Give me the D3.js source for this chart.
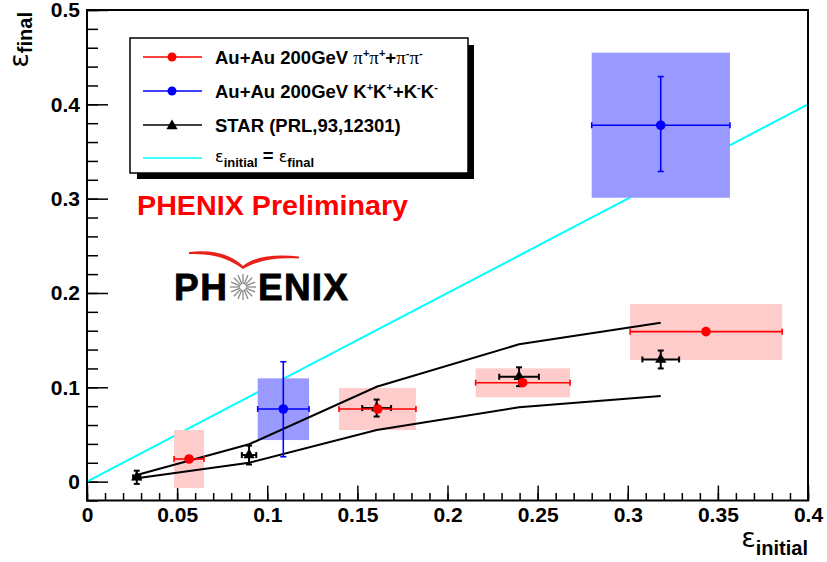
<!DOCTYPE html>
<html>
<head>
<meta charset="utf-8">
<script src="https://cdn.jsdelivr.net/npm/d3@7"></script>
<style>
body { margin: 0; background: #fff; }
text { font-family: "Liberation Sans", Arial, sans-serif; }
</style>
</head>
<body>
<svg id="chart" width="827" height="562"></svg>
<script>
// PHENIX pions (points, x error range = syst box width, syst box in y)
var pionX     = [0.0566, 0.1613, 0.2417, 0.3434];
var pionY     = [0.0240, 0.0770, 0.1049, 0.1590];
var pionXLo   = [0.0483, 0.1398, 0.2156, 0.3013];
var pionXHi   = [0.0649, 0.1825, 0.2680, 0.3857];
var pionSysLo = [-0.0068, 0.0547, 0.0894, 0.1289];
var pionSysHi = [0.0547, 0.0992, 0.1201, 0.1883];

// PHENIX kaons
var kaonX     = [0.1089, 0.3183];
var kaonY     = [0.0770, 0.3778];
var kaonXLo   = [0.0947, 0.2800];
var kaonXHi   = [0.1232, 0.3567];
var kaonYLo   = [0.0264, 0.3288];
var kaonYHi   = [0.1271, 0.4294];
var kaonSysLo = [0.0441, 0.3010];
var kaonSysHi = [0.1095, 0.4548];

// STAR points and the two model curves
var starX    = [0.0276, 0.0899, 0.1607, 0.2397, 0.3183];
var starY    = [0.0046, 0.0282, 0.0780, 0.1112, 0.1295];
var starXErr = [0.0020, 0.0040, 0.0080, 0.0110, 0.0102];
var starYErr = [0.0070, 0.0100, 0.0090, 0.0100, 0.0095];
var curveUp  = [0.0070, 0.0396, 0.1006, 0.1456, 0.1685];
var curveLow = [0.0035, 0.0200, 0.0547, 0.0788, 0.0908];

// axes
var xMajor  = [0, 0.05, 0.1, 0.15, 0.2, 0.25, 0.3, 0.35, 0.4];
var xLabels = ["0", "0.05", "0.1", "0.15", "0.2", "0.25", "0.3", "0.35", "0.4"];
var yMajor  = [0, 0.1, 0.2, 0.3, 0.4, 0.5];
var yLabels = ["0", "0.1", "0.2", "0.3", "0.4", "0.5"];
var xMinor  = d3.range(0, 41).map(function(i){ return i / 100; });
var yMinor  = d3.range(-1, 26).map(function(i){ return i * 0.02; });
var diag    = [0, 0.4];

var svg = d3.select("#chart");
var x = d3.scaleLinear().domain([0, 0.4]).range([87, 808]);
var y = d3.scaleLinear().domain([-0.02, 0.5]).range([500.5, 10]);

// ticks (pointing inside, like ROOT)
svg.append("g").attr("transform", "translate(0," + y(-0.02) + ")")
	.call(d3.axisBottom(x).tickValues(xMinor).tickSize(-7.5).tickSizeOuter(0).tickFormat(""))
	.call(function(g){ g.select(".domain").remove(); g.selectAll("line").attr("stroke-width", 1.5); });
svg.append("g").attr("transform", "translate(0," + y(-0.02) + ")")
	.call(d3.axisBottom(x).tickValues(xMajor).tickSize(-15).tickSizeOuter(0).tickPadding(7)
		.tickFormat(function(d, i){ return xLabels[i]; }))
	.call(function(g){
		g.select(".domain").remove();
		g.selectAll("line").attr("stroke-width", 1.5);
		g.selectAll("text").attr("font-size", 21).attr("font-weight", "bold").attr("fill", "#000")
			.attr("font-family", "Liberation Sans, Arial, sans-serif");
	});
svg.append("g").attr("transform", "translate(" + x(0) + ",0)")
	.call(d3.axisLeft(y).tickValues(yMinor).tickSize(-11).tickSizeOuter(0).tickFormat(""))
	.call(function(g){ g.select(".domain").remove(); g.selectAll("line").attr("stroke-width", 1.5); });
svg.append("g").attr("transform", "translate(" + x(0) + ",0)")
	.call(d3.axisLeft(y).tickValues(yMajor).tickSize(-21).tickSizeOuter(0).tickPadding(7)
		.tickFormat(function(d, i){ return yLabels[i]; }))
	.call(function(g){
		g.select(".domain").remove();
		g.selectAll("line").attr("stroke-width", 1.5);
		g.selectAll("text").attr("font-size", 21).attr("font-weight", "bold").attr("fill", "#000")
			.attr("font-family", "Liberation Sans, Arial, sans-serif");
	});

// y = x reference line
svg.append("line")
	.attr("x1", x(diag[0])).attr("y1", y(diag[0]))
	.attr("x2", x(diag[1])).attr("y2", y(diag[1]))
	.attr("stroke", "#00ffff").attr("stroke-width", 2);

// systematic boxes
svg.selectAll(".pbox").data(pionX).enter().append("rect")
	.attr("x", function(d, i){ return x(pionXLo[i]); })
	.attr("y", function(d, i){ return y(pionSysHi[i]); })
	.attr("width", function(d, i){ return x(pionXHi[i]) - x(pionXLo[i]); })
	.attr("height", function(d, i){ return y(pionSysLo[i]) - y(pionSysHi[i]); })
	.attr("fill", "#ffcccc");
svg.selectAll(".kbox").data(kaonX).enter().append("rect")
	.attr("x", function(d, i){ return x(kaonXLo[i]); })
	.attr("y", function(d, i){ return y(kaonSysHi[i]); })
	.attr("width", function(d, i){ return x(kaonXHi[i]) - x(kaonXLo[i]); })
	.attr("height", function(d, i){ return y(kaonSysLo[i]) - y(kaonSysHi[i]); })
	.attr("fill", "#9999ff");

// STAR model curves
var line = d3.line().x(function(d, i){ return x(starX[i]); }).y(function(d){ return y(d); });
[curveUp, curveLow].forEach(function(c){
	svg.append("path").datum(c).attr("d", line)
		.attr("fill", "none").attr("stroke", "#000").attr("stroke-width", 2);
});

// error bars with little caps
function barH(cx0, cx1, cy, cor, cap, w){
	svg.append("line").attr("x1", cx0).attr("y1", cy).attr("x2", cx1).attr("y2", cy)
		.attr("stroke", cor).attr("stroke-width", w);
	[cx0, cx1].forEach(function(cx){
		svg.append("line").attr("x1", cx).attr("y1", cy - cap).attr("x2", cx).attr("y2", cy + cap)
			.attr("stroke", cor).attr("stroke-width", w);
	});
}
function barV(cx, cy0, cy1, cor, cap, w){
	svg.append("line").attr("x1", cx).attr("y1", cy0).attr("x2", cx).attr("y2", cy1)
		.attr("stroke", cor).attr("stroke-width", w);
	[cy0, cy1].forEach(function(cy){
		svg.append("line").attr("x1", cx - cap).attr("y1", cy).attr("x2", cx + cap).attr("y2", cy)
			.attr("stroke", cor).attr("stroke-width", w);
	});
}

for(var i = 0; i < starX.length; i++){
	barH(x(starX[i] - starXErr[i]), x(starX[i] + starXErr[i]), y(starY[i]), "#000", 3, 2);
	barV(x(starX[i]), y(starY[i] + starYErr[i]), y(starY[i] - starYErr[i]), "#000", 3, 2);
}
for(var i = 0; i < pionX.length; i++){
	barH(x(pionXLo[i]), x(pionXHi[i]), y(pionY[i]), "#ff0000", 3, 1.6);
}
for(var i = 0; i < kaonX.length; i++){
	barH(x(kaonXLo[i]), x(kaonXHi[i]), y(kaonY[i]), "#0000ff", 3, 1.6);
	barV(x(kaonX[i]), y(kaonYHi[i]), y(kaonYLo[i]), "#0000ff", 3, 1.6);
}

// markers
var tri = d3.symbol().type(d3.symbolTriangle).size(55);
svg.selectAll(".star").data(starX).enter().append("path")
	.attr("d", tri)
	.attr("transform", function(d, i){ return "translate(" + x(d) + "," + y(starY[i]) + ")"; })
	.attr("fill", "#000");
svg.selectAll(".pion").data(pionX).enter().append("circle")
	.attr("cx", function(d){ return x(d); })
	.attr("cy", function(d, i){ return y(pionY[i]); })
	.attr("r", 4.8).attr("fill", "#ff0000");
svg.selectAll(".kaon").data(kaonX).enter().append("circle")
	.attr("cx", function(d){ return x(d); })
	.attr("cy", function(d, i){ return y(kaonY[i]); })
	.attr("r", 4.8).attr("fill", "#0000ff");

// frame
svg.append("rect")
	.attr("x", x(0)).attr("y", y(0.5))
	.attr("width", x(0.4) - x(0)).attr("height", y(-0.02) - y(0.5))
	.attr("fill", "none").attr("stroke", "#000").attr("stroke-width", 2);

// rich text helper: pieces are [text, fontFamily, size, weight, dy]
function rich(t, pieces){
	pieces.forEach(function(p){
		t.append("tspan").text(p[0])
			.attr("font-family", p[1]).attr("font-size", p[2])
			.attr("font-weight", p[3]).attr("dy", p[4] || 0);
	});
	return t;
}
var SANS = "Liberation Sans, Arial, sans-serif";
var SER = "Liberation Serif, Times New Roman, serif";
var EPS = "DejaVu Sans, sans-serif";

// axis titles
rich(svg.append("text").attr("x", 808).attr("y", 547).attr("text-anchor", "end"),
	[["\u03b5", EPS, 27, "normal"], ["initial", SANS, 20, "bold", 8]]);
rich(svg.append("text").attr("transform", "translate(28,12) rotate(-90)").attr("text-anchor", "end"),
	[["\u03b5", EPS, 27, "normal"], ["final", SANS, 20, "bold", 4]]);

// legend
svg.append("rect").attr("x", 137).attr("y", 45).attr("width", 337).attr("height", 134).attr("fill", "#000");
svg.append("rect").attr("x", 130).attr("y", 38).attr("width", 338).attr("height", 135)
	.attr("fill", "#fff").attr("stroke", "#000").attr("stroke-width", 1.5);

var legRows = [57, 91, 125, 158];
var legCols = ["#ff0000", "#0000ff", "#000", "#00ffff"];
legRows.forEach(function(ry, i){
	svg.append("line").attr("x1", 143).attr("x2", 202).attr("y1", ry).attr("y2", ry)
		.attr("stroke", legCols[i]).attr("stroke-width", 1.6);
});
svg.append("circle").attr("cx", 172).attr("cy", legRows[0]).attr("r", 4.5).attr("fill", "#ff0000");
svg.append("circle").attr("cx", 172).attr("cy", legRows[1]).attr("r", 4.5).attr("fill", "#0000ff");
svg.append("path").attr("d", tri).attr("transform", "translate(172," + (legRows[2] + 1) + ")").attr("fill", "#000");

var L = 18.5;
rich(svg.append("text").attr("x", 215).attr("y", legRows[0] + 6.5), [
	["Au+Au 200GeV ", SANS, L, "bold"],
	["\u03c0", SER, 19, "normal"], ["+", SANS, 11, "bold", -7],
	["\u03c0", SER, 19, "normal", 7], ["+", SANS, 11, "bold", -7],
	["+", SANS, L, "bold", 7],
	["\u03c0", SER, 19, "normal"], ["-", SANS, 11, "bold", -7],
	["\u03c0", SER, 19, "normal", 7], ["-", SANS, 11, "bold", -7]
]);
rich(svg.append("text").attr("x", 215).attr("y", legRows[1] + 6.5), [
	["Au+Au 200GeV K", SANS, L, "bold"], ["+", SANS, 11, "bold", -7],
	["K", SANS, L, "bold", 7], ["+", SANS, 11, "bold", -7],
	["+K", SANS, L, "bold", 7], ["-", SANS, 11, "bold", -7],
	["K", SANS, L, "bold", 7], ["-", SANS, 11, "bold", -7]
]);
rich(svg.append("text").attr("x", 215).attr("y", legRows[2] + 6.5), [
	["STAR (PRL,93,12301)", SANS, L, "bold"]
]);
rich(svg.append("text").attr("x", 215).attr("y", legRows[3] + 4), [
	["\u03b5", EPS, 16, "normal"], ["initial", SANS, 13, "bold", 5],
	[" = ", SANS, L, "bold", -5],
	["\u03b5", EPS, 16, "normal"], ["final", SANS, 13, "bold", 5]
]);

// PHENIX Preliminary
svg.append("text").attr("x", 137).attr("y", 215)
	.attr("font-size", 28).attr("font-weight", "bold").attr("fill", "#ff0000")
	.attr("textLength", 271).attr("lengthAdjust", "spacingAndGlyphs")
	.text("PHENIX Preliminary");

// PHENIX logo
var logo = svg.append("g");
logo.append("text").attr("x", 174).attr("y", 300).attr("font-size", 37).attr("font-weight", "bold")
	.attr("stroke", "#000").attr("stroke-width", 0.8)
	.attr("textLength", 53).text("PH");
logo.append("text").attr("x", 258).attr("y", 300).attr("font-size", 37).attr("font-weight", "bold")
	.attr("stroke", "#000").attr("stroke-width", 0.8)
	.attr("textLength", 90).text("ENIX");
var sx = 243, sy = 287;
d3.range(16).forEach(function(k){
	var a = k * Math.PI / 8;
	logo.append("line")
		.attr("x1", sx + 3 * Math.cos(a)).attr("y1", sy + 3 * Math.sin(a))
		.attr("x2", sx + 13 * Math.cos(a)).attr("y2", sy + 13 * Math.sin(a))
		.attr("stroke", "#888").attr("stroke-width", 1.3);
});
logo.append("path")
	.attr("d", "M189,252 C214,249 232,255 243,266 C255,256 276,254 299,256.5 L299,258.5 C277,257 258,260 243,269 C230,259 212,253 189,254 Z")
	.attr("fill", "#e8211b");
</script>
</body>
</html>
